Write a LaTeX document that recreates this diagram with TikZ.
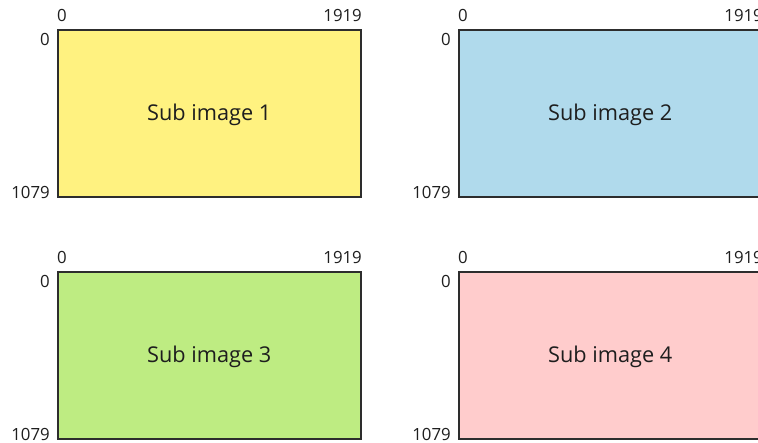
\documentclass[tikz,border=0pt]{standalone}
\usepackage{fontspec}
\setmainfont{Open Sans}
\definecolor{cyel}{RGB}{255,242,128}
\definecolor{cblu}{RGB}{176,218,236}
\definecolor{cgrn}{RGB}{190,236,130}
\definecolor{cpnk}{RGB}{255,204,204}
\definecolor{cedge}{RGB}{45,45,45}
\definecolor{ctxt}{RGB}{30,30,30}
\begin{document}
\begin{tikzpicture}[x=0.75pt,y=-0.75pt,
  subimg/.style={draw=cedge,line width=1.2pt,inner sep=0pt,minimum width=303*0.75pt,minimum height=167*0.75pt},
  lab/.style={inner sep=0pt,text=ctxt,font=\fontsize{16.3}{19}\selectfont},
  num/.style={inner sep=0pt,text=ctxt,font=\fontsize{12.6}{14}\selectfont}]
\useasboundingbox (0,0) rectangle (758,443);
\clip (0,0) rectangle (758,443);
\fill[white] (0,0) rectangle (758,443);
\foreach \nm/\cx/\cy/\col/\lab in {a/57/29/cyel/1, b/458/29/cblu/2, c/57/271/cgrn/3, d/458/271/cpnk/4}{
  \node[subimg,fill=\col,anchor=north west] (\nm) at (\cx,\cy) {};
  \node[lab] (\nm t) at ([yshift=-1.5*0.75pt]\nm.center) {Sub image \lab};
  \node[num,anchor=center] (\nm x0) at ([xshift=5*0.75pt,yshift=13.5*0.75pt]\nm.north west) {0};
  \node[num,anchor=east] (\nm x1) at ([xshift=0.5*0.75pt,yshift=13.5*0.75pt]\nm.north east) {1919};
  \node[num,anchor=east] (\nm y0) at ([xshift=-7*0.75pt,yshift=-10*0.75pt]\nm.north west) {0};
  \node[num,anchor=east] (\nm y1) at ([xshift=-7*0.75pt,yshift=5*0.75pt]\nm.south west) {1079};
}
\end{tikzpicture}
\end{document}
